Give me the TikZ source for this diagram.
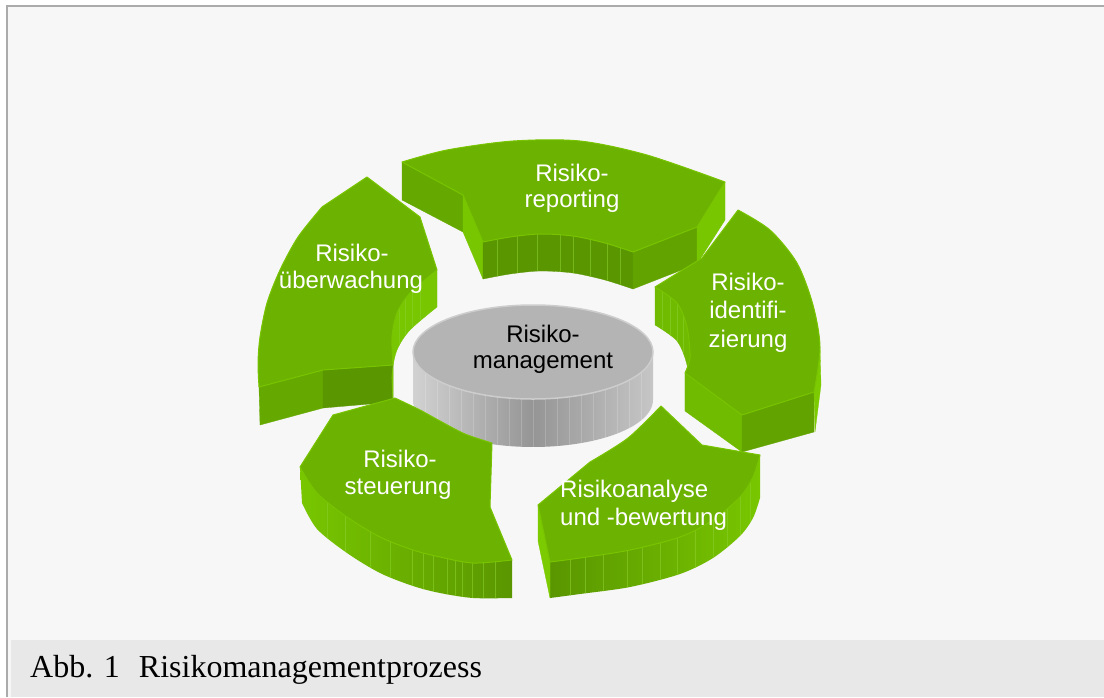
\documentclass[tikz,border=0pt]{standalone}
\usepackage{fontspec}
\setmainfont{Liberation Serif}
\newfontfamily\segfont{Liberation Sans}
\definecolor{pagebg}{HTML}{F7F7F7}
\definecolor{captionbg}{HTML}{E8E8E8}
\definecolor{framegrey}{HTML}{ABABAB}
\definecolor{segtop}{HTML}{6CB200}
\definecolor{segedge}{HTML}{78C400}
\definecolor{sidelight}{HTML}{78C600}
\definecolor{sidemid}{HTML}{65A900}
\definecolor{sidemiddark}{HTML}{62A300}
\definecolor{sidedark}{HTML}{5A9600}
\definecolor{wallA}{HTML}{70BA00}
\definecolor{wallB}{HTML}{7CCA00}
\definecolor{stripe}{HTML}{8AD02A}
\definecolor{discTop}{HTML}{B4B4B4}
\definecolor{discRim}{HTML}{CDCDCD}
\definecolor{discL}{HTML}{D2D2D2}
\definecolor{discM}{HTML}{959595}
\definecolor{discR}{HTML}{C6C6C6}
\begin{document}
\begin{tikzpicture}[x=1pt,y=-1pt,
  topface/.style={fill=segtop,draw=segedge,line width=1pt,line join=round},
  sideface/.style={fill=#1,draw=#1,line width=0.3pt,line join=round},
  stripeline/.style={draw=stripe,line width=0.6pt,opacity=0.6},
  discstripe/.style={draw=white,line width=0.5pt,opacity=0.18},
  seglabel/.style={text=white,font=\segfont\fontsize{24}{27}\selectfont,anchor=base,inner sep=0pt},
]
\useasboundingbox (0,0) rectangle (1104,697);
% page, frame and caption band
\fill[white] (0,0) rectangle (1104,697);
\fill[pagebg] (8,7) rectangle (1104,697);
\fill[captionbg] (11,640) rectangle (1104,697);
\draw[framegrey,line width=2pt] (7,697) -- (7,6) -- (1104,6);

% ---- Risikoreporting (top) ----
\path[sideface=sidemid] (402,162) -- (463,195) -- (463,232) -- (402,200) -- cycle;
\path[sideface=sidelight] (463,195) -- (483,242) -- (483,279) -- (463,232) -- cycle;
\path[sideface=sidedark,path picture={\foreach \sx in {497,517,537,560,573,590,607,620}
    \draw[stripeline] (\sx,200) -- (\sx,320);}]
  plot[smooth] coordinates {(483,242) (510,237) (540,234) (573,236) (605,243) (633,252)}
  -- plot[smooth] coordinates {(633,289) (605,280) (573,273) (540,271) (510,274) (483,279)} -- cycle;
\path[sideface=sidemiddark] (633,252) -- (697,227) -- (697,264) -- (633,289) -- cycle;
\path[sideface=sidelight] (697,227) -- (725,182) -- (725,220) -- (697,264) -- cycle;
\path[topface] (402,162)
  -- plot[smooth] coordinates {(402,162) (447,150) (513,141) (580,141) (647,155) (725,182)}
  -- (697,227) -- (633,252)
  -- plot[smooth] coordinates {(633,252) (605,243) (573,236) (540,234) (510,237) (483,242)}
  -- (463,195) -- cycle;

% ---- Risikoueberwachung (left) ----
\path[sideface=sidemid] (259,387) -- (323,370) -- (323,408) -- (260,425) -- cycle;
\path[sideface=sidedark] (323,370) -- (393,365) -- (393,402) -- (323,408) -- cycle;
\path[sideface=sidelight,path picture={\foreach \sx in {399,405,412,420}
    \draw[stripeline] (\sx,250) -- (\sx,420);}]
  plot[smooth] coordinates {(393,365) (392,337) (397,313) (410,293) (437,270)}
  -- plot[smooth] coordinates {(437,307) (410,330) (397,350) (392,374) (393,402)} -- cycle;
\path[topface] (367,177) -- (322,207)
  -- plot[smooth] coordinates {(322,207) (298,237) (280,270) (267,303) (260,337) (258,363) (259,387)}
  -- (323,370) -- (393,365)
  -- plot[smooth] coordinates {(393,365) (392,337) (397,313) (410,293) (437,270)}
  -- (420,217) -- cycle;

% ---- Risikoidentifizierung (right) ----
\path[sideface=wallA,path picture={\foreach \sx in {662,670,677,683}
    \draw[stripeline] (\sx,270) -- (\sx,420);}]
  plot[smooth] coordinates {(655,287) (677,303) (687,327) (690,357) (685,373)}
  -- plot[smooth] coordinates {(685,411) (690,395) (687,365) (677,341) (655,325)} -- cycle;
\path[sideface=wallA] (685,373) -- (742,415) -- (742,452) -- (685,411) -- cycle;
\path[sideface=sidemiddark] (742,415) -- (814,392) -- (814,432) -- (742,452) -- cycle;
\path[sideface=wallB] (814,392) -- (820,347) -- (821,385) -- (815,432) -- cycle;
\path[topface] (738,210)
  -- plot[smooth] coordinates {(738,210) (770,230) (797,263) (813,305) (820,347) (814,392)}
  -- (742,415) -- (685,373)
  -- plot[smooth] coordinates {(685,373) (690,357) (687,327) (677,303) (655,287)}
  -- (702,258) -- cycle;

% ---- centre disc ----
\path[left color=discL,right color=discR,middle color=discM,
      path picture={\foreach \sx in {425,437,...,645} \draw[discstripe] (\sx,340) -- (\sx,460);}]
  plot[domain=180:0,samples=60] ({533+120*cos(\x)},{400+47*sin(\x)})
  -- plot[domain=0:180,samples=60] ({533+120*cos(\x)},{352+47*sin(\x)}) -- cycle;
\path[fill=discTop,draw=discRim,line width=1.5pt] (533,352) ellipse [x radius=120,y radius=47];

% ---- Risikosteuerung (bottom left) ----
\path[left color=sidelight,right color=sidedark,
      path picture={\foreach \sx in {327,345,370,390,412,423,433,447,455,462,472,483,495}
        \draw[stripeline] (\sx,440) -- (\sx,620);}]
  plot[smooth] coordinates {(512,560) (473,563) (440,557) (413,550) (380,537) (347,517) (317,493) (300,467)}
  -- plot[smooth] coordinates {(302,503) (317,529) (347,553) (380,573) (413,586) (440,593) (473,598) (512,598)} -- cycle;
\path[topface] (333,415) -- (395,398)
  -- plot[smooth] coordinates {(395,398) (420,410) (440,421) (465,434) (492,443)}
  -- (490,507) -- (512,560)
  -- plot[smooth] coordinates {(512,560) (473,563) (440,557) (413,550) (380,537) (347,517) (317,493) (300,467)}
  -- cycle;

% ---- Risikoanalyse und -bewertung (bottom right) ----
\path[left color=sidedark,right color=sidelight,
      path picture={\foreach \sx in {570,585,603,627,642,660,677,695,713,727,740,750}
        \draw[stripeline] (\sx,440) -- (\sx,620);}]
  plot[smooth] coordinates {(760,455) (753,477) (740,497) (713,520) (680,537) (630,550) (580,558) (550,562)}
  -- plot[smooth] coordinates {(550,598) (580,594) (630,587) (680,574) (713,558) (740,536) (753,518) (760,498)} -- cycle;
\path[sideface=wallB] (538,505) -- (550,562) -- (550,598) -- (538,541) -- cycle;
\path[topface] (661,406) -- (702,445) -- (760,455)
  -- plot[smooth] coordinates {(760,455) (753,477) (740,497) (713,520) (680,537) (630,550) (580,558) (550,562)}
  -- (538,505) -- (590,462)
  -- plot[smooth] coordinates {(590,462) (628,438) (661,406)} -- cycle;

% ---- labels ----
\node[seglabel] (rep1) at (572,181) {Risiko-};
\node[seglabel] (rep2) at (572,207) {reporting};
\node[seglabel] (ueb1) at (352,261) {Risiko-};
\node[seglabel] (ueb2) at (351,288) {überwachung};
\node[seglabel] (ide1) at (748,290) {Risiko-};
\node[seglabel] (ide2) at (748,318) {identifi-};
\node[seglabel] (ide3) at (748,347) {zierung};
\node[seglabel] (ste1) at (400,467) {Risiko-};
\node[seglabel] (ste2) at (398,494) {steuerung};
\node[seglabel,anchor=base west] (ana1) at (560,497) {Risikoanalyse};
\node[seglabel,anchor=base west] (ana2) at (560,525) {und -bewertung};
\node[seglabel,text=black] (mgmt1) at (543,342) {Risiko-};
\node[seglabel,text=black] (mgmt2) at (543,368) {management};

\node[anchor=base west,inner sep=0pt,font=\fontsize{32}{36}\selectfont] (caption)
  at (30,677) {Abb. 1\hspace{19pt}Risikomanagementprozess};
\end{tikzpicture}
\end{document}
